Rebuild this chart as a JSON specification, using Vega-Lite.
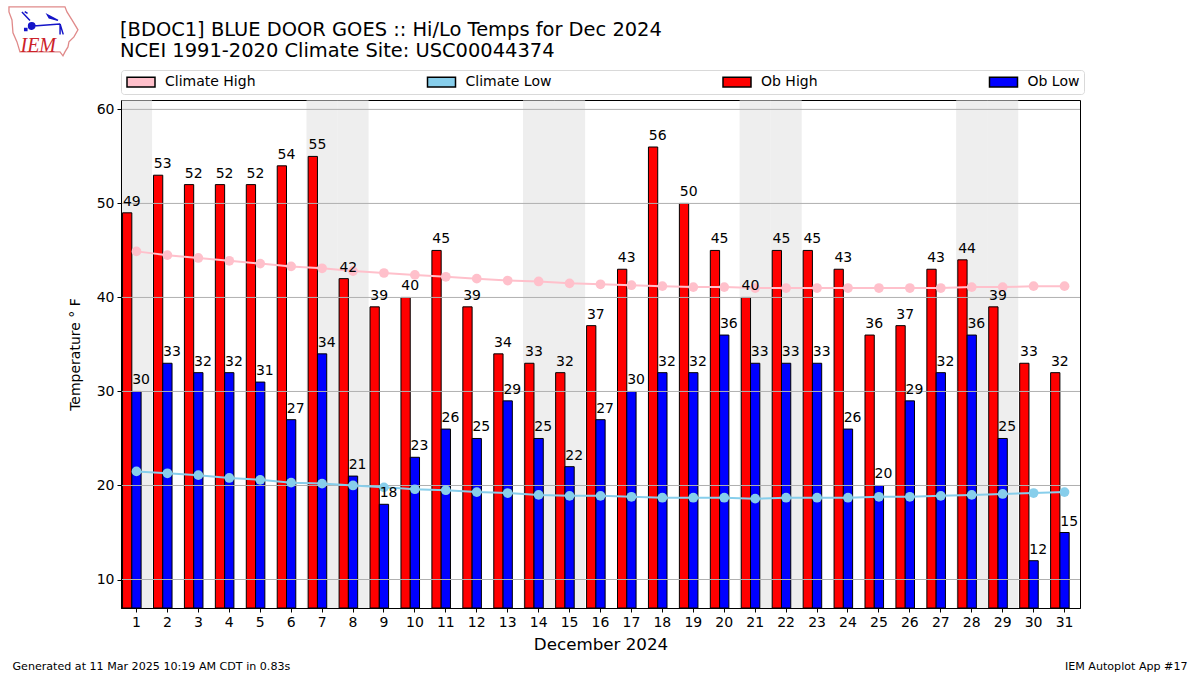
{"$schema":"https://vega.github.io/schema/vega-lite/v6.json","width":959,"height":508,"autosize":{"type":"none"},"padding":{"left":121,"top":100,"right":120,"bottom":67},"background":"white",
"title":{"text":["[BDOC1] BLUE DOOR GOES :: Hi/Lo Temps for Dec 2024","NCEI 1991-2020 Climate Site: USC00044374"],"anchor":"start","frame":"group","font":"DejaVu Sans","fontSize":19.44,"fontWeight":"normal","color":"black","lineHeight":21.5,"offset":8,"dx":-1,"dy":65.5},
"config":{"view":{"stroke":"black","strokeWidth":1},"font":"DejaVu Sans"},
"datasets":{"temps":[
{"day":1,"series":"Ob High","value":49},{"day":2,"series":"Ob High","value":53},{"day":3,"series":"Ob High","value":52},{"day":4,"series":"Ob High","value":52},{"day":5,"series":"Ob High","value":52},{"day":6,"series":"Ob High","value":54},{"day":7,"series":"Ob High","value":55},{"day":8,"series":"Ob High","value":42},{"day":9,"series":"Ob High","value":39},{"day":10,"series":"Ob High","value":40},{"day":11,"series":"Ob High","value":45},{"day":12,"series":"Ob High","value":39},{"day":13,"series":"Ob High","value":34},{"day":14,"series":"Ob High","value":33},{"day":15,"series":"Ob High","value":32},{"day":16,"series":"Ob High","value":37},{"day":17,"series":"Ob High","value":43},{"day":18,"series":"Ob High","value":56},{"day":19,"series":"Ob High","value":50},{"day":20,"series":"Ob High","value":45},{"day":21,"series":"Ob High","value":40},{"day":22,"series":"Ob High","value":45},{"day":23,"series":"Ob High","value":45},{"day":24,"series":"Ob High","value":43},{"day":25,"series":"Ob High","value":36},{"day":26,"series":"Ob High","value":37},{"day":27,"series":"Ob High","value":43},{"day":28,"series":"Ob High","value":44},{"day":29,"series":"Ob High","value":39},{"day":30,"series":"Ob High","value":33},{"day":31,"series":"Ob High","value":32},
{"day":1,"series":"Ob Low","value":30},{"day":2,"series":"Ob Low","value":33},{"day":3,"series":"Ob Low","value":32},{"day":4,"series":"Ob Low","value":32},{"day":5,"series":"Ob Low","value":31},{"day":6,"series":"Ob Low","value":27},{"day":7,"series":"Ob Low","value":34},{"day":8,"series":"Ob Low","value":21},{"day":9,"series":"Ob Low","value":18},{"day":10,"series":"Ob Low","value":23},{"day":11,"series":"Ob Low","value":26},{"day":12,"series":"Ob Low","value":25},{"day":13,"series":"Ob Low","value":29},{"day":14,"series":"Ob Low","value":25},{"day":15,"series":"Ob Low","value":22},{"day":16,"series":"Ob Low","value":27},{"day":17,"series":"Ob Low","value":30},{"day":18,"series":"Ob Low","value":32},{"day":19,"series":"Ob Low","value":32},{"day":20,"series":"Ob Low","value":36},{"day":21,"series":"Ob Low","value":33},{"day":22,"series":"Ob Low","value":33},{"day":23,"series":"Ob Low","value":33},{"day":24,"series":"Ob Low","value":26},{"day":25,"series":"Ob Low","value":20},{"day":26,"series":"Ob Low","value":29},{"day":27,"series":"Ob Low","value":32},{"day":28,"series":"Ob Low","value":36},{"day":29,"series":"Ob Low","value":25},{"day":30,"series":"Ob Low","value":12},{"day":31,"series":"Ob Low","value":15},
{"day":1,"series":"Climate High","value":44.9},{"day":2,"series":"Climate High","value":44.5},{"day":3,"series":"Climate High","value":44.2},{"day":4,"series":"Climate High","value":43.9},{"day":5,"series":"Climate High","value":43.6},{"day":6,"series":"Climate High","value":43.3},{"day":7,"series":"Climate High","value":43.1},{"day":8,"series":"Climate High","value":42.8},{"day":9,"series":"Climate High","value":42.6},{"day":10,"series":"Climate High","value":42.4},{"day":11,"series":"Climate High","value":42.2},{"day":12,"series":"Climate High","value":42.0},{"day":13,"series":"Climate High","value":41.8},{"day":14,"series":"Climate High","value":41.7},{"day":15,"series":"Climate High","value":41.5},{"day":16,"series":"Climate High","value":41.4},{"day":17,"series":"Climate High","value":41.3},{"day":18,"series":"Climate High","value":41.2},{"day":19,"series":"Climate High","value":41.1},{"day":20,"series":"Climate High","value":41.1},{"day":21,"series":"Climate High","value":41.0},{"day":22,"series":"Climate High","value":41.0},{"day":23,"series":"Climate High","value":41.0},{"day":24,"series":"Climate High","value":41.0},{"day":25,"series":"Climate High","value":41.0},{"day":26,"series":"Climate High","value":41.0},{"day":27,"series":"Climate High","value":41.0},{"day":28,"series":"Climate High","value":41.1},{"day":29,"series":"Climate High","value":41.1},{"day":30,"series":"Climate High","value":41.2},{"day":31,"series":"Climate High","value":41.2},
{"day":1,"series":"Climate Low","value":21.5},{"day":2,"series":"Climate Low","value":21.3},{"day":3,"series":"Climate Low","value":21.1},{"day":4,"series":"Climate Low","value":20.8},{"day":5,"series":"Climate Low","value":20.6},{"day":6,"series":"Climate Low","value":20.3},{"day":7,"series":"Climate Low","value":20.2},{"day":8,"series":"Climate Low","value":20.0},{"day":9,"series":"Climate Low","value":19.8},{"day":10,"series":"Climate Low","value":19.6},{"day":11,"series":"Climate Low","value":19.5},{"day":12,"series":"Climate Low","value":19.3},{"day":13,"series":"Climate Low","value":19.2},{"day":14,"series":"Climate Low","value":19.0},{"day":15,"series":"Climate Low","value":18.9},{"day":16,"series":"Climate Low","value":18.9},{"day":17,"series":"Climate Low","value":18.8},{"day":18,"series":"Climate Low","value":18.7},{"day":19,"series":"Climate Low","value":18.7},{"day":20,"series":"Climate Low","value":18.7},{"day":21,"series":"Climate Low","value":18.6},{"day":22,"series":"Climate Low","value":18.7},{"day":23,"series":"Climate Low","value":18.7},{"day":24,"series":"Climate Low","value":18.7},{"day":25,"series":"Climate Low","value":18.8},{"day":26,"series":"Climate Low","value":18.8},{"day":27,"series":"Climate Low","value":18.9},{"day":28,"series":"Climate Low","value":19.0},{"day":29,"series":"Climate Low","value":19.1},{"day":30,"series":"Climate Low","value":19.2},{"day":31,"series":"Climate Low","value":19.3}
],
"weekends":[{"day":1},{"day":7},{"day":8},{"day":14},{"day":15},{"day":21},{"day":22},{"day":28},{"day":29}],
"levels":[{"level":10},{"level":20},{"level":30},{"level":40},{"level":50},{"level":60}],
"notes":[{"note":"Generated at 11 Mar 2025 10:19 AM CDT in 0.83s","day":1},{"note":"IEM Autoplot App #17","day":31}],
"logo":[{"note":"IEM","day":1}]},
"encoding":{"x":{"field":"day","type":"ordinal","scale":{"domain":[1,2,3,4,5,6,7,8,9,10,11,12,13,14,15,16,17,18,19,20,21,22,23,24,25,26,27,28,29,30,31],"paddingInner":0.1,"paddingOuter":0.05},"axis":{"title":"December 2024","titleFont":"DejaVu Sans","titleFontSize":16.7,"titleFontWeight":"normal","titleColor":"black","titlePadding":7,"labelFont":"DejaVu Sans","labelFontSize":14,"labelColor":"black","labelAngle":0,"labelPadding":3,"tickColor":"black","tickSize":4,"domainColor":"black","grid":false,"zindex":1}}},
"layer":[
{"data":{"name":"weekends"},"mark":{"type":"bar","width":{"band":1.12},"color":"#eeeeee"},"encoding":{"y":{"datum":60.95,"type":"quantitative","scale":{"domain":[6.97,61],"nice":false,"zero":false},"axis":{"title":"Temperature ° F","titleFont":"DejaVu Sans","titleFontSize":14,"titleFontWeight":"normal","titleColor":"black","titlePadding":14,"labelFont":"DejaVu Sans","labelFontSize":14,"labelColor":"black","labelPadding":3,"tickColor":"black","tickSize":4,"domainColor":"black","values":[10,20,30,40,50,60],"grid":false,"zindex":1}},"y2":{"datum":6.97}}},
{"data":{"name":"temps"},"transform":[{"filter":"datum.series=='Ob High'||datum.series=='Ob Low'"}],"mark":{"type":"bar","stroke":"black","strokeWidth":1},"encoding":{"xOffset":{"field":"series","type":"nominal","scale":{"domain":["Ob High","Ob Low","spare"],"paddingInner":0,"paddingOuter":0}},"y":{"field":"value","type":"quantitative"},"y2":{"datum":6.97},"color":{"field":"series","type":"nominal","scale":{"domain":["Climate High","Climate Low","Ob High","Ob Low"],"range":["#ffc0cb","#87ceeb","#ff0000","#0000ff"]},"legend":{"orient":"none","legendX":0,"legendY":-30,"direction":"horizontal","columns":4,"title":null,"labelFont":"DejaVu Sans","labelFontSize":14,"labelColor":"black","symbolType":"M-2,-0.7H2V0.7H-2Z","symbolSize":196,"symbolOffset":8,"columnPadding":168.5,"labelOffset":16,"fillColor":"white","strokeColor":"#d9d9d9","cornerRadius":3,"padding":4,"gridAlign":"each"}}}},
{"data":{"name":"levels"},"mark":{"type":"rule","color":"#b0b0b0","strokeWidth":1},"encoding":{"x":null,"y":{"field":"level","type":"quantitative"}}},
{"data":{"name":"temps"},"transform":[{"filter":"datum.series=='Climate High'||datum.series=='Climate Low'"}],"mark":{"type":"line","strokeWidth":2},"encoding":{"y":{"field":"value","type":"quantitative"},"stroke":{"field":"series","type":"nominal","scale":{"domain":["Climate High","Climate Low"],"range":["#ffc0cb","#87ceeb"]},"legend":null}}},
{"data":{"name":"temps"},"transform":[{"filter":"datum.series=='Climate High'||datum.series=='Climate Low'"}],"mark":{"type":"point","filled":true,"size":95,"opacity":1},"encoding":{"y":{"field":"value","type":"quantitative"},"fill":{"field":"series","type":"nominal","scale":{"domain":["Climate High","Climate Low"],"range":["#ffc0cb","#87ceeb"]},"legend":null}}},
{"data":{"name":"temps"},"transform":[{"filter":"datum.series=='Ob High'||datum.series=='Ob Low'"}],"mark":{"type":"text","baseline":"bottom","align":"center","dx":4.6,"dy":-4,"font":"DejaVu Sans","fontSize":14,"color":"black"},"encoding":{"xOffset":{"field":"series","type":"nominal","scale":{"domain":["Ob High","Ob Low","spare"],"paddingInner":0,"paddingOuter":0}},"y":{"field":"value","type":"quantitative"},"text":{"field":"value","type":"quantitative"}}},
{"data":{"name":"logo"},"mark":{"type":"point","filled":false,"xOffset":-92.5,"size":4900,"stroke":"#e08a8a","strokeWidth":1.3,"opacity":1,"shape":"M-1,-0.686L0.6,-0.686L0.657,-0.543L0.8,-0.314L0.971,-0.029L0.857,0.171L0.714,0.314L0.686,0.457L0.6,0.6L0.543,0.714L0.457,0.6L-0.686,0.6L-0.771,0.314L-0.886,0.057L-0.914,-0.314L-1,-0.543Z"},"encoding":{"x":{"field":"day","type":"ordinal"},"y":{"datum":68.35}}},
{"data":{"name":"logo"},"mark":{"type":"point","filled":false,"xOffset":-92.5,"size":4900,"stroke":"#1515c8","fill":"#1515c8","fillOpacity":1,"strokeWidth":1.5,"opacity":1,"shape":"M-0.44,-0.14A0.09,0.09,0,1,1,-0.26,-0.14A0.09,0.09,0,1,1,-0.44,-0.14ZM-0.3,-0.14L0.46,-0.2ZM0.1,-0.46L0.4,-0.3L0.15,-0.37ZM0.46,-0.2L0.46,0.1ZM0.46,-0.2L0.55,0.1ZM-0.63,-0.54L-0.4,-0.3ZM-0.55,-0.55L-0.47,-0.5ZM-0.55,-0.07H-0.49V-0.01H-0.55Z"},"encoding":{"x":{"field":"day","type":"ordinal"},"y":{"datum":68.35}}},
{"data":{"name":"logo"},"mark":{"type":"text","font":"Liberation Serif","fontStyle":"italic","fontSize":20,"color":"#cc2229","align":"left","baseline":"alphabetic","dx":-116},"encoding":{"x":{"field":"day","type":"ordinal"},"y":{"datum":66.1},"text":{"field":"note"}}},
{"data":{"name":"notes"},"transform":[{"filter":"datum.day==1"}],"mark":{"type":"text","font":"DejaVu Sans","fontSize":11.1,"color":"black","align":"left","dx":-124},"encoding":{"x":{"field":"day","type":"ordinal"},"y":{"datum":0.7},"text":{"field":"note"}}},
{"data":{"name":"notes"},"transform":[{"filter":"datum.day==31"}],"mark":{"type":"text","font":"DejaVu Sans","fontSize":11.1,"color":"black","align":"right","dx":123},"encoding":{"x":{"field":"day","type":"ordinal"},"y":{"datum":0.7},"text":{"field":"note"}}}
]}
